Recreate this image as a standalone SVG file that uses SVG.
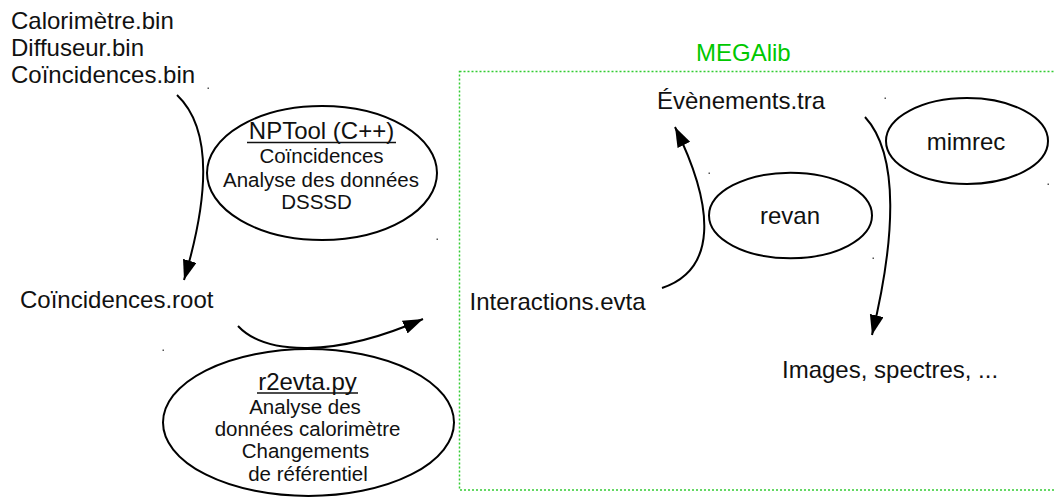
<svg xmlns="http://www.w3.org/2000/svg" width="1054" height="498" viewBox="0 0 1054 498">
<style>
text{font-family:"Liberation Sans",Arial,sans-serif;fill:#111}
.lbl{font-size:24px}
.in{font-size:20.5px;text-anchor:middle}
.ttl{font-size:24px;text-anchor:middle}
.node{fill:#fff;stroke:#000;stroke-width:2}
.conn{fill:none;stroke:#000;stroke-width:2;marker-end:url(#arr)}
.ul{stroke:#111;stroke-width:1.5}
.dot{fill:#555}
</style>
<defs>
<marker id="arr" markerUnits="userSpaceOnUse" viewBox="0 0 21 15" markerWidth="21" markerHeight="15" refX="20" refY="7" orient="auto">
<path d="M0,0 L20,7 L0,14 z" fill="#000"/>
</marker>
</defs>
<rect width="1054" height="498" fill="#fff"/>

<g id="megalib">
<rect x="459.5" y="71.5" width="620" height="418.5" fill="none" stroke="#33cc33" stroke-width="1.5" stroke-dasharray="2,2"/>
<text x="696" y="61" class="lbl" style="fill:#00c800">MEGAlib</text>
</g>

<g id="inputs">
<text x="11" y="29" class="lbl">Calorimètre.bin</text>
<text x="11" y="56" class="lbl">Diffuseur.bin</text>
<text x="11" y="83" class="lbl">Coïncidences.bin</text>
</g>

<g id="nptool">
<ellipse cx="322" cy="173" rx="115" ry="67" class="node"/>
<text x="321.5" y="139" class="ttl">NPTool (C++)</text>
<line x1="247" y1="142.5" x2="396" y2="142.5" class="ul"/>
<text x="321.5" y="163" class="in">Coïncidences</text>
<text x="321" y="187" class="in">Analyse des données</text>
<text x="316.5" y="209" class="in">DSSSD</text>
</g>

<g id="coinc-root">
<text x="20" y="308" class="lbl">Coïncidences.root</text>
</g>

<g id="r2evta">
<ellipse cx="308.5" cy="422.5" rx="145.5" ry="73.5" class="node"/>
<text x="307.5" y="390" class="ttl">r2evta.py</text>
<line x1="257" y1="393" x2="358" y2="393" class="ul"/>
<text x="305" y="414" class="in">Analyse des</text>
<text x="307.5" y="436" class="in">données calorimètre</text>
<text x="305.5" y="458" class="in">Changements</text>
<text x="308" y="481" class="in">de référentiel</text>
</g>

<g id="interactions">
<text x="469.5" y="310" class="lbl">Interactions.evta</text>
</g>

<g id="evenements">
<text x="657" y="109" class="lbl">Évènements.tra</text>
</g>

<g id="revan">
<ellipse cx="790.5" cy="215.5" rx="81.5" ry="42.8" class="node"/>
<text x="790" y="224" class="lbl" text-anchor="middle">revan</text>
</g>

<g id="mimrec">
<ellipse cx="967" cy="141" rx="81" ry="43" class="node"/>
<text x="966" y="150" class="lbl" text-anchor="middle">mimrec</text>
</g>

<g id="images">
<text x="782" y="378" class="lbl">Images, spectres, ...</text>
</g>

<g id="connectors">
<path class="conn" d="M177,95 C214,130 208,200 184,280"/>
<path class="conn" d="M238,326 C265,355 335,358 423,319"/>
<path class="conn" d="M662,288 C716,270 716,210 675,127"/>
<path class="conn" d="M865,117 C900,155 895,240 872,335"/>
</g>

<g id="dots">
<rect x="207.5" y="87.5" width="1.5" height="1.5" class="dot"/>
<rect x="436.5" y="238.5" width="1.5" height="1.5" class="dot"/>
<rect x="162.5" y="349.5" width="1.5" height="1.5" class="dot"/>
<rect x="884.5" y="97.5" width="1.5" height="1.5" class="dot"/>
<rect x="708.5" y="172.5" width="1.5" height="1.5" class="dot"/>
<rect x="1047.5" y="183.5" width="1.5" height="1.5" class="dot"/>
<rect x="872.5" y="257.5" width="1.5" height="1.5" class="dot"/>
</g>
</svg>
